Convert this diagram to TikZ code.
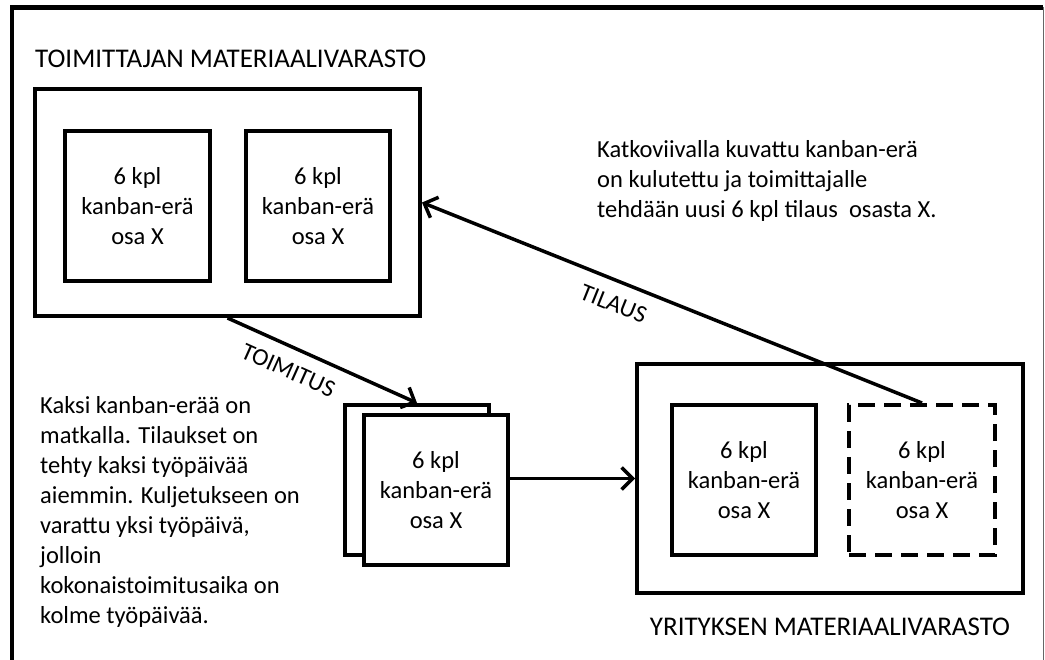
\documentclass[tikz,border=0pt]{standalone}
\usepackage{fontspec}
\setmainfont{Carlito}
\usetikzlibrary{arrows.meta,positioning}
\tikzset{
	basic/.style = {draw, line width=4pt, inner sep=0pt},
	varasto/.style = {basic, minimum width=386pt},
	erabox/.style = {basic, minimum width=145pt, minimum height=150pt, align=center},
	kulutettu/.style = {erabox, dash pattern=on 17pt off 9pt},
	otsikko/.style = {inner sep=0pt, font=\fontsize{27}{30}\selectfont},
	selite/.style = {align=left, inner sep=0pt},
	nuoli/.style = {line width=3.5pt, -{Straight Barb[length=11pt,width=22pt,line width=3.5pt]}}
}

\begin{document}
\begin{tikzpicture}[x=1pt, y=-1pt,
	every node/.style={font=\fontsize{24.5}{30}\selectfont}]
	\useasboundingbox (0,0) rectangle (1045,660);

	% outer frame of the figure
	\draw[line width=4.5pt] (12,662) -- (12,7.5) -- (1043,7.5);
	\draw[line width=1pt, black!60] (1043,7.5) -- (1043,662);

	% supplier stock and its kanban lots
	\node[varasto, minimum width=385pt, minimum height=227pt] (sup) at (227.5,202.5) {};
	\node[erabox] (s1) at (137.5,206) {6 kpl\\kanban-erä\\osa X};
	\node[erabox, minimum width=144pt] (s2) at (318,206) {6 kpl\\kanban-erä\\osa X};
	\node[otsikko, anchor=base west] (suptitle) at (35,68) {TOIMITTAJAN MATERIAALIVARASTO};

	% lots on the way
	\node[erabox, minimum width=144pt] (back) at (417,480) {};
	\node[erabox, minimum width=144pt, fill=white] (front) at (436,490) {6 kpl\\kanban-erä\\osa X};

	% company stock
	\node[varasto, minimum height=229pt] (yrit) at (830,478.5) {};
	\node[erabox, minimum width=144pt] (y1) at (744,480) {6 kpl\\kanban-erä\\osa X};
	\node[kulutettu, minimum width=146pt] (y2) at (922,480) {6 kpl\\kanban-erä\\osa X};
	\node[otsikko, anchor=base] (yrittitle) at ([yshift=-40pt]yrit.south) {YRITYKSEN MATERIAALIVARASTO};

	% explanations (base = last line)
	\node[selite, anchor=base west] (matkalla) at (40,623)
		{Kaksi kanban-erää on\\matkalla. Tilaukset on\\tehty kaksi työpäivää\\aiemmin. Kuljetukseen on\\varattu yksi työpäivä,\\jolloin\\kokonaistoimitusaika on\\kolme työpäivää.};
	\node[selite, anchor=base west] (tilaus) at (597,218)
		{Katkoviivalla kuvattu kanban-erä\\on kulutettu ja toimittajalle\\tehdään uusi 6 kpl tilaus\ \ osasta X.};

	% flows
	\draw[nuoli] (sup.south) -- node[sloped, pos=0.37, below=13pt, inner sep=0pt] (toim) {TOIMITUS} (back.north);
	\draw[nuoli] (front.east |- yrit.west) -- (yrit.west);
	\draw[nuoli] (y2.north) -- node[sloped, pos=0.6, below=13pt, inner sep=0pt] (til) {TILAUS} (sup.east);
\end{tikzpicture}
\end{document}
